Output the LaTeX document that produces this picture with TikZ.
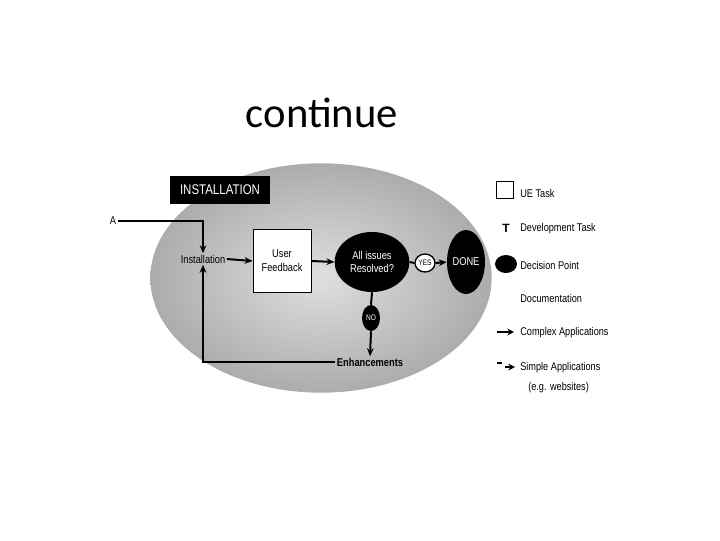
\documentclass[tikz,border=0pt]{standalone}
\usepackage{fontspec}
\setmainfont{Liberation Sans}
\newfontfamily\titlefont{Carlito}
\newfontfamily\narrowfont[FakeStretch=0.82]{Liberation Sans}
\usetikzlibrary{arrows.meta,shapes.geometric}
\begin{document}
\begin{tikzpicture}[x=0.75pt,y=-0.75pt,
  conn/.style={line width=1.5pt,-{Stealth[length=6pt,width=5pt]}},
  plainline/.style={line width=1.5pt},
  lbl/.style={font=\narrowfont\fontsize{8.5}{9.5}\selectfont,inner sep=1pt},
  darkell/.style={ellipse,fill=black,text=white,inner sep=0pt,font=\narrowfont\fontsize{8.5}{9.5}\selectfont,align=center},
  legtext/.style={font=\narrowfont\fontsize{8.4}{9.4}\selectfont,anchor=west,inner sep=0pt,align=left}]
\useasboundingbox (0,0) rectangle (720,540);
\fill[white] (0,0) rectangle (720,540);
% title
\node[font=\titlefont\fontsize{32}{34}\selectfont] (title) at (322,113) {continue};
% background ellipse
\shade[inner color=gray!25,outer color=gray!65] (321,278) ellipse [x radius=128pt,y radius=86pt];
% installation header
\node[fill=black,text=white,minimum width=75pt,minimum height=21pt,inner sep=0pt,font=\narrowfont\fontsize{10.5}{11.5}\selectfont] (hdr) at (220,190) {INSTALLATION};
% nodes
\node[lbl] (A) at (113,221) {A};
\node[lbl] (inst) at (203,259) {Installation};
\node[draw=black,line width=0.6pt,fill=white,minimum width=43.5pt,minimum height=47pt,inner sep=0pt,align=center,font=\narrowfont\fontsize{8.5}{10.5}\selectfont] (fb) at (282,261) {User\\Feedback};
\node[darkell,minimum width=56pt,minimum height=45pt] (dec) at (372,262) {All issues\\Resolved?};
\node[ellipse,draw=black,line width=1pt,fill=white,minimum width=15pt,minimum height=13.5pt,inner sep=0pt,font=\narrowfont\fontsize{6}{7}\selectfont] (yes) at (425,263) {YES};
\node[darkell,minimum width=25.5pt,minimum height=48pt] (done) at (466,262) {DONE};
\node[darkell,minimum width=13.5pt,minimum height=19.5pt,font=\narrowfont\fontsize{6}{7}\selectfont] (no) at (371,318) {NO};
\node[lbl,font=\narrowfont\bfseries\fontsize{8.5}{9.5}\selectfont] (enh) at (370,362) {Enhancements};
% connectors
\draw[conn] (A.east) -| (inst.north);
\draw[conn] (inst.east) -- (fb.west);
\draw[conn] (fb.east) -- (dec.west);
\draw[plainline] (dec.east) -- (yes.west);
\draw[conn] (yes.east) -- (done.west);
\draw[plainline] (dec.south) -- (no.north);
\draw[conn] (no.south) -- (enh.north);
\draw[conn] (enh.west) -| (inst.south);
% legend
\node[draw=black,line width=0.8pt,minimum width=13pt,minimum height=13pt,inner sep=0pt] (lsq) at (505,190) {};
\node[legtext] (l1) at (520,193) {UE Task};
\node[font=\bfseries\fontsize{9}{10}\selectfont,inner sep=0pt] (lT) at (506,228) {T};
\node[legtext] (l2) at (520,229) {Development Task};
\node[ellipse,fill=black,minimum width=16.5pt,minimum height=13.5pt,inner sep=0pt] (lblob) at (506,264) {};
\node[legtext] (l3) at (520,265) {Decision Point};
\node[legtext] (l4) at (520,298) {Documentation};
\coordinate (ca1) at (497,332);
\coordinate (ca2) at (514,332);
\draw[line width=1.2pt,-{Stealth[length=5pt,width=5pt]}] (ca1) -- (ca2);
\node[legtext] (l5) at (520,333) {Complex Applications};
\coordinate (sa0) at (497,363);
\coordinate (sa1) at (502,363);
\coordinate (sa2) at (505,367);
\coordinate (sa3) at (515,367);
\draw[line width=1.2pt] (sa0) -- (sa1);
\draw[line width=1.2pt,-{Stealth[length=5pt,width=5pt]}] (sa2) -- (sa3);
\node[legtext] (l6) at (520,368) {Simple Applications};
\node[legtext] (l7) at (528,388) {(e.g. websites)};
\end{tikzpicture}
\end{document}
